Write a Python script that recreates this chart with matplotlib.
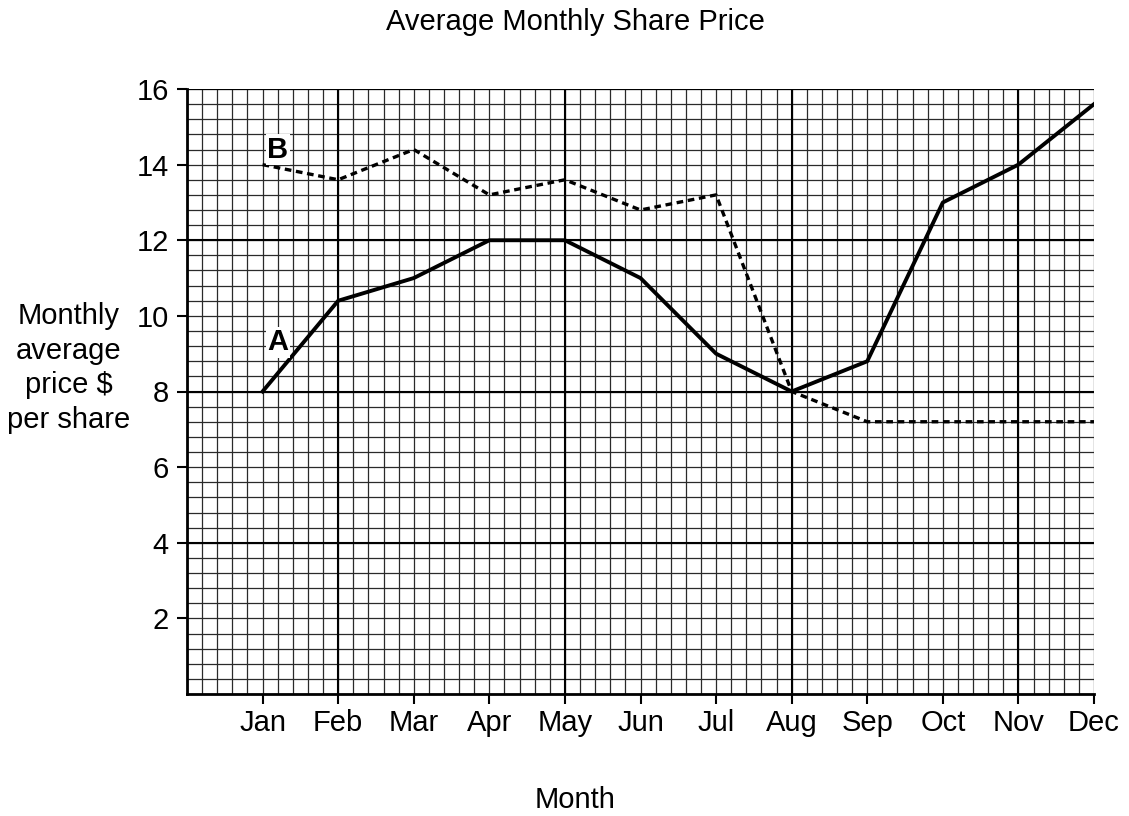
import numpy as np
import matplotlib.pyplot as plt

plt.rcParams['font.family'] = ['Liberation Sans', 'DejaVu Sans']

months = ['Jan', 'Feb', 'Mar', 'Apr', 'May', 'Jun', 'Jul', 'Aug', 'Sep', 'Oct', 'Nov', 'Dec']
share_a = [8, 10.4, 11, 12, 12, 11, 9, 8, 8.8, 13, 14, 15.6]
share_b = [14, 13.6, 14.4, 13.2, 13.6, 12.8, 13.2, 8, 7.2, 7.2, 7.2, 7.2]
y_ticks = [2, 4, 6, 8, 10, 12, 14, 16]

fig = plt.figure(figsize=(11.29, 8.16), dpi=100)
ax = fig.add_axes([187 / 1129, 1 - 694 / 816, (1094 - 187) / 1129, (694 - 89) / 816])

x = np.arange(1, 13)
ax.set_xlim(0, 12)
ax.set_ylim(0, 16)

# graph paper grid
for gx in np.arange(0, 12.01, 0.2):
    ax.axvline(gx, color='#2a2a2a', lw=0.9, zorder=1)
for gy in np.arange(0, 16.01, 0.4):
    ax.axhline(gy, color='#2a2a2a', lw=0.9, zorder=1)
for gx in [2, 5, 8, 11]:
    ax.axvline(gx, color='black', lw=1.5, zorder=1)
for gy in [4, 8, 12, 16]:
    ax.axhline(gy, color='black', lw=1.5, zorder=1)

ax.plot(x, share_a, color='black', lw=2.8, zorder=3)
ax.plot(x, share_b, color='black', lw=2.4, ls=(0, (2.0, 1.4)), zorder=3)

ax.text(1.2, 14.4, 'B', fontsize=21, fontweight='bold', ha='center', va='center',
        bbox=dict(facecolor='white', edgecolor='none', pad=1), zorder=4)
ax.text(1.2, 9.3, 'A', fontsize=21, fontweight='bold', ha='center', va='center',
        bbox=dict(facecolor='white', edgecolor='none', pad=1), zorder=4)

ax.set_xticks(x)
ax.set_xticklabels(months)
ax.set_yticks(y_ticks)
ax.tick_params(axis='both', labelsize=21, direction='out', length=7, width=1.5, color='black')
ax.tick_params(axis='x', pad=4)
ax.tick_params(axis='y', pad=6)

for s in ['top', 'right']:
    ax.spines[s].set_visible(False)
for s in ['left', 'bottom']:
    ax.spines[s].set_linewidth(2)

fig.text(575 / 1129, 1 - 22 / 816, 'Average Monthly Share Price', ha='center', va='center', fontsize=21)
fig.text(575 / 1129, 1 - 800 / 816, 'Month', ha='center', va='center', fontsize=21)
fig.text(69 / 1129, 1 - 368 / 816, 'Monthly\naverage\nprice $\nper share', ha='center', va='center',
         fontsize=21, linespacing=1.3)

fig.savefig('out.png', dpi=100)
